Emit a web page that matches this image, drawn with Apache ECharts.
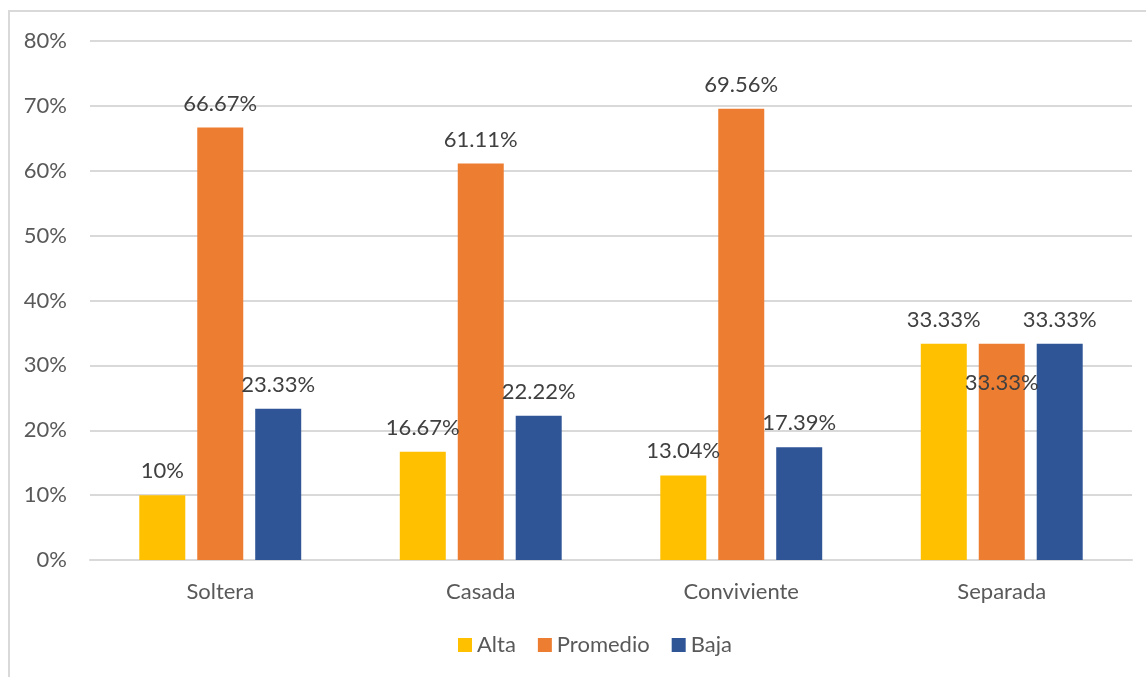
<!DOCTYPE html>
<html>
<head>
<meta charset="utf-8">
<script src="https://cdn.jsdelivr.net/npm/echarts@6/dist/echarts.min.js"></script>
<style>
  html, body { margin: 0; padding: 0; background: #fff; }
  #chart { width: 1146px; height: 677px; }
</style>
</head>
<body>
<div id="chart"></div>
<script>
const categories = ['Soltera', 'Casada', 'Conviviente', 'Separada'];
const alta = [10, 16.67, 13.04, 33.33];
const promedio = [66.67, 61.11, 69.56, 33.33];
const baja = [23.33, 22.22, 17.39, 33.33];
const yTicks = [0, 10, 20, 30, 40, 50, 60, 70, 80];

const textColor = '#595959';
const font = 'Lato';
const fs = 22;

function fmt(v) {
    return v + '%';
}

function labelStyle() {
    return {
        show: true,
        position: 'top',
        distance: 13,
        color: '#404040',
        fontFamily: font,
        fontSize: fs,
        formatter: p => fmt(p.value)
    };
}

// Excel drew the last orange label inside the bar
const promedioData = promedio.map((v, i) => {
    if (i === 3) {
        return { value: v, label: { position: 'insideTop', distance: 28 } };
    }
    return v;
});

const chart = echarts.init(document.getElementById('chart'));
const option = {
    animation: false,
    textStyle: { fontFamily: font },
    graphic: [{
        type: 'rect',
        shape: { x: 9, y: 11, width: 1200, height: 700 },
        style: { fill: 'none', stroke: '#D9D9D9', lineWidth: 2 },
        silent: true
    }],
    legend: {
        bottom: 16,
        left: 453,
        itemWidth: 14,
        itemHeight: 14,
        itemGap: 22,
        icon: 'rect',
        textStyle: { color: textColor, fontSize: fs, fontFamily: font }
    },
    grid: { left: 90, right: 14, top: 41, bottom: 117 },
    xAxis: {
        type: 'category',
        data: categories,
        axisLine: { lineStyle: { color: '#D9D9D9', width: 2 } },
        axisTick: { show: false },
        axisLabel: { color: textColor, fontSize: fs, fontFamily: font, margin: 21 }
    },
    yAxis: {
        type: 'value',
        min: yTicks[0],
        max: yTicks[yTicks.length - 1],
        interval: 10,
        axisLine: { show: false },
        axisTick: { show: false },
        splitLine: { lineStyle: { color: '#D9D9D9', width: 2 } },
        axisLabel: { color: textColor, fontSize: fs, fontFamily: font, margin: 23, formatter: '{value}%' }
    },
    series: [
        { name: 'Alta', type: 'bar', data: alta, barWidth: 46, barGap: '26%', itemStyle: { color: '#FFC000' }, label: labelStyle() },
        { name: 'Promedio', type: 'bar', data: promedioData, barWidth: 46, barGap: '26%', itemStyle: { color: '#ED7D31' }, label: labelStyle() },
        { name: 'Baja', type: 'bar', data: baja, barWidth: 46, barGap: '26%', itemStyle: { color: '#2F5597' }, label: labelStyle() }
    ]
};
chart.setOption(option);
</script>
</body>
</html>
